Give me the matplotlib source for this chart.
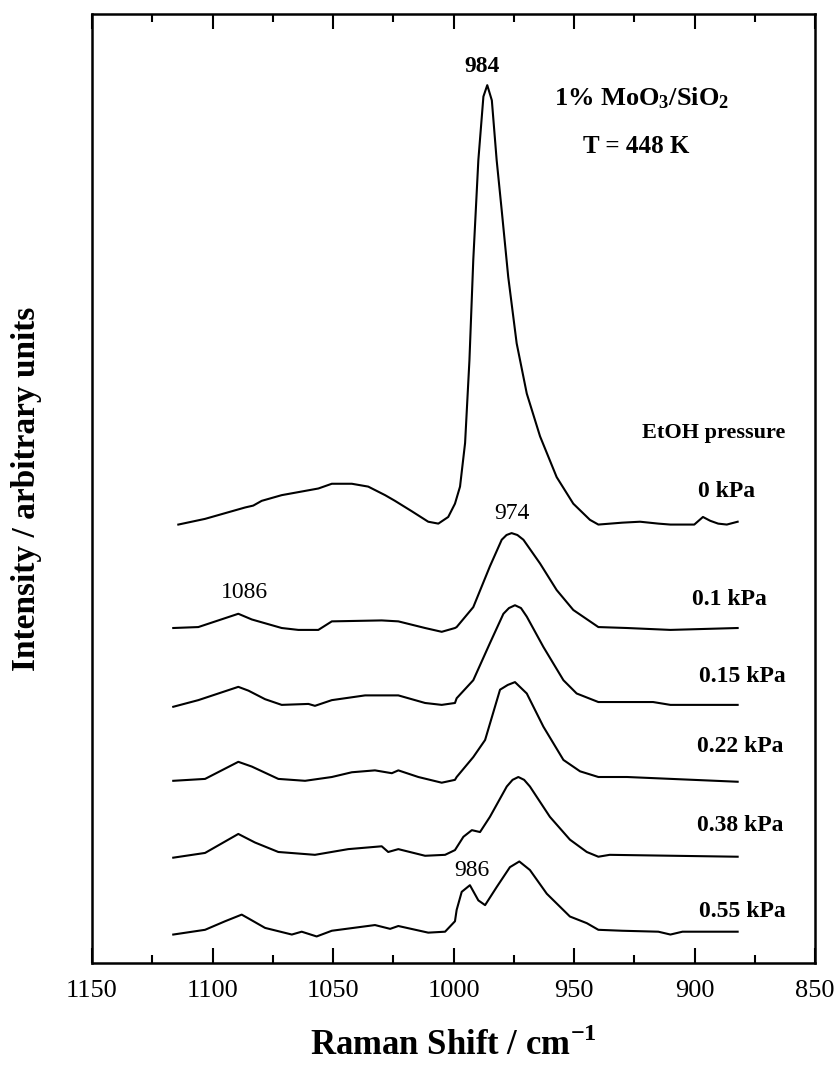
import matplotlib
matplotlib.use("Agg")
from matplotlib import pyplot as plt
from matplotlib.ticker import MultipleLocator

plt.rcParams['font.family'] = ['Liberation Serif', 'DejaVu Serif']
plt.rcParams['mathtext.fontset'] = 'custom'
plt.rcParams['mathtext.rm'] = 'Liberation Serif'
plt.rcParams['mathtext.bf'] = 'Liberation Serif:bold'

# Raman spectra, stacked (arbitrary units)
x_0 = [1114.2, 1103.1, 1086.5, 1083.1, 1079.6, 1071.3, 1056.1, 1050.5, 1042.2, 1035.4,
       1028.4, 1024.3, 1017.3, 1010.5, 1006.3, 1002.2, 999.4, 997.3, 995.2, 993.4,
       991.8, 989.7, 987.6, 986.0, 984.1, 982.1, 980.0, 977.3, 973.8, 969.6,
       964.1, 957.2, 950.3, 943.4, 939.9, 930.0, 922.6, 915.0, 910.0, 900.1,
       896.5, 893.5, 890.2, 886.6, 882.1]
y_0 = [46.2, 46.8, 48.0, 48.2, 48.7, 49.3, 50.0, 50.5, 50.5, 50.2,
       49.3, 48.7, 47.6, 46.5, 46.3, 47.0, 48.4, 50.2, 54.8, 63.5,
       74.1, 84.6, 91.3, 92.5, 90.9, 84.6, 79.3, 72.3, 65.3, 60.0,
       55.5, 51.2, 48.4, 46.7, 46.2, 46.4, 46.5, 46.3, 46.2, 46.2,
       47.0, 46.6, 46.3, 46.2, 46.5]

x_01 = [1116.3, 1105.9, 1097.6, 1089.3, 1083.7, 1071.3, 1064.4, 1056.1, 1050.5, 1029.8,
        1022.9, 1011.8, 1004.9, 999.4, 998.7, 991.8, 984.9, 980.0, 978.0, 975.9,
        973.5, 971.0, 964.1, 957.2, 950.3, 939.9, 928.0, 910.0, 882.1]
y_01 = [35.3, 35.4, 36.1, 36.8, 36.2, 35.3, 35.1, 35.1, 36.0, 36.1,
        36.0, 35.3, 34.9, 35.3, 35.4, 37.5, 41.8, 44.6, 45.1, 45.3,
        45.1, 44.6, 42.1, 39.3, 37.2, 35.4, 35.3, 35.1, 35.3]

x_015 = [1116.3, 1105.9, 1097.6, 1089.3, 1085.1, 1078.2, 1071.3, 1060.2, 1057.5, 1050.5,
         1036.7, 1022.9, 1011.8, 1004.9, 999.4, 998.7, 991.8, 984.9, 979.3, 977.0,
         974.5, 972.0, 969.6, 962.7, 954.4, 948.9, 939.9, 917.2, 910.0, 882.1]
y_015 = [27.0, 27.7, 28.4, 29.1, 28.7, 27.8, 27.2, 27.3, 27.1, 27.7,
         28.2, 28.2, 27.4, 27.2, 27.4, 27.9, 29.8, 33.7, 36.8, 37.4,
         37.7, 37.4, 36.5, 33.3, 29.8, 28.4, 27.5, 27.5, 27.2, 27.2]

x_022 = [1116.3, 1103.1, 1096.2, 1089.3, 1083.7, 1072.7, 1061.6, 1050.5, 1042.2, 1032.6,
         1025.6, 1022.9, 1014.6, 1004.9, 999.4, 998.7, 991.8, 986.9, 980.7, 977.5,
         974.5, 969.6, 962.7, 954.4, 947.5, 939.9, 928.0, 882.1]
y_022 = [19.2, 19.4, 20.3, 21.2, 20.7, 19.4, 19.2, 19.6, 20.1, 20.3,
         20.0, 20.3, 19.6, 19.0, 19.3, 19.6, 21.7, 23.5, 28.8, 29.3,
         29.6, 28.4, 24.9, 21.4, 20.2, 19.6, 19.6, 19.1]

x_038 = [1116.3, 1103.1, 1089.3, 1082.4, 1072.7, 1057.5, 1043.7, 1029.8, 1027.1, 1022.9,
         1011.8, 1003.5, 999.4, 995.9, 992.4, 989.0, 984.9, 977.9, 975.5, 973.1,
         970.7, 968.3, 960.0, 951.7, 944.7, 939.9, 935.2, 882.1]
y_038 = [11.1, 11.6, 13.6, 12.7, 11.7, 11.4, 12.0, 12.3, 11.7, 12.0,
         11.3, 11.4, 11.9, 13.3, 14.0, 13.8, 15.4, 18.6, 19.3, 19.6,
         19.3, 18.6, 15.4, 13.0, 11.7, 11.2, 11.4, 11.2]

x_055 = [1116.3, 1103.1, 1094.8, 1087.9, 1085.1, 1078.2, 1067.1, 1063.0, 1056.8, 1050.5,
         1032.6, 1026.3, 1022.9, 1010.5, 1003.5, 999.4, 998.7, 996.6, 993.2, 989.7,
         986.9, 982.1, 976.6, 972.7, 968.3, 961.3, 951.7, 944.7, 939.9, 930.0,
         915.0, 910.0, 905.0, 882.1]
y_055 = [3.0, 3.5, 4.4, 5.1, 4.7, 3.7, 3.0, 3.3, 2.8, 3.4,
         4.0, 3.6, 3.9, 3.2, 3.3, 4.4, 5.6, 7.5, 8.2, 6.6,
         6.1, 8.0, 10.1, 10.7, 9.8, 7.3, 4.9, 4.2, 3.5, 3.4,
         3.3, 3.0, 3.3, 3.3]

pressures = ["0 kPa", "0.1 kPa", "0.15 kPa", "0.22 kPa", "0.38 kPa", "0.55 kPa"]
label_pos = [(886.6, 49.7), (885.7, 38.3), (880.3, 30.2), (881.2, 22.8), (881.2, 14.5), (880.3, 5.4)]

fig = plt.figure(figsize=(8.39, 10.68), dpi=100)
ax = fig.add_axes([0.1097, 0.0983, 0.8617, 0.8886])

for xs, ys in [(x_0, y_0), (x_01, y_01), (x_015, y_015), (x_022, y_022), (x_038, y_038), (x_055, y_055)]:
    ax.plot(xs, ys, color='black', lw=1.5)

for name, (px, py) in zip(pressures, label_pos):
    ax.text(px, py, name, ha='center', va='center', fontsize=17, fontweight='bold')

ax.text(892, 55.8, "EtOH pressure", ha='center', va='center', fontsize=16, fontweight='bold')
ax.text(921.8, 91.1, r"1% Mo$\mathbf{O_3}$/Si$\mathbf{O_2}$", ha='center', va='center',
        fontsize=19, fontweight='bold')
ax.text(924, 86.0, "T = 448 K", ha='center', va='center', fontsize=18, fontweight='bold')

ax.text(988.3, 94.5, "984", ha='center', va='center', fontsize=17, fontweight='bold')
ax.text(975.9, 47.4, "974", ha='center', va='center', fontsize=17)
ax.text(1086.7, 39.0, "1086", ha='center', va='center', fontsize=17)
ax.text(992.4, 9.8, "986", ha='center', va='center', fontsize=17)

ax.set_xlim(1150, 850)
ax.set_ylim(0, 100)
ax.xaxis.set_major_locator(MultipleLocator(50))
ax.xaxis.set_minor_locator(MultipleLocator(25))
ax.set_yticks([])
ax.tick_params(axis='x', which='both', direction='in', top=True, bottom=True, width=1.5)
ax.tick_params(axis='x', which='major', length=11, labelsize=19, pad=12)
ax.tick_params(axis='x', which='minor', length=5.5)
for s in ax.spines.values():
    s.set_linewidth(1.8)

ax.set_xlabel("Raman Shift / cm$^{\\mathbf{-1}}$", fontsize=25, fontweight='bold', labelpad=19)
ax.set_ylabel("Intensity / arbitrary units", fontsize=24, fontweight='bold', labelpad=36)

fig.savefig("out.png", dpi=100)
